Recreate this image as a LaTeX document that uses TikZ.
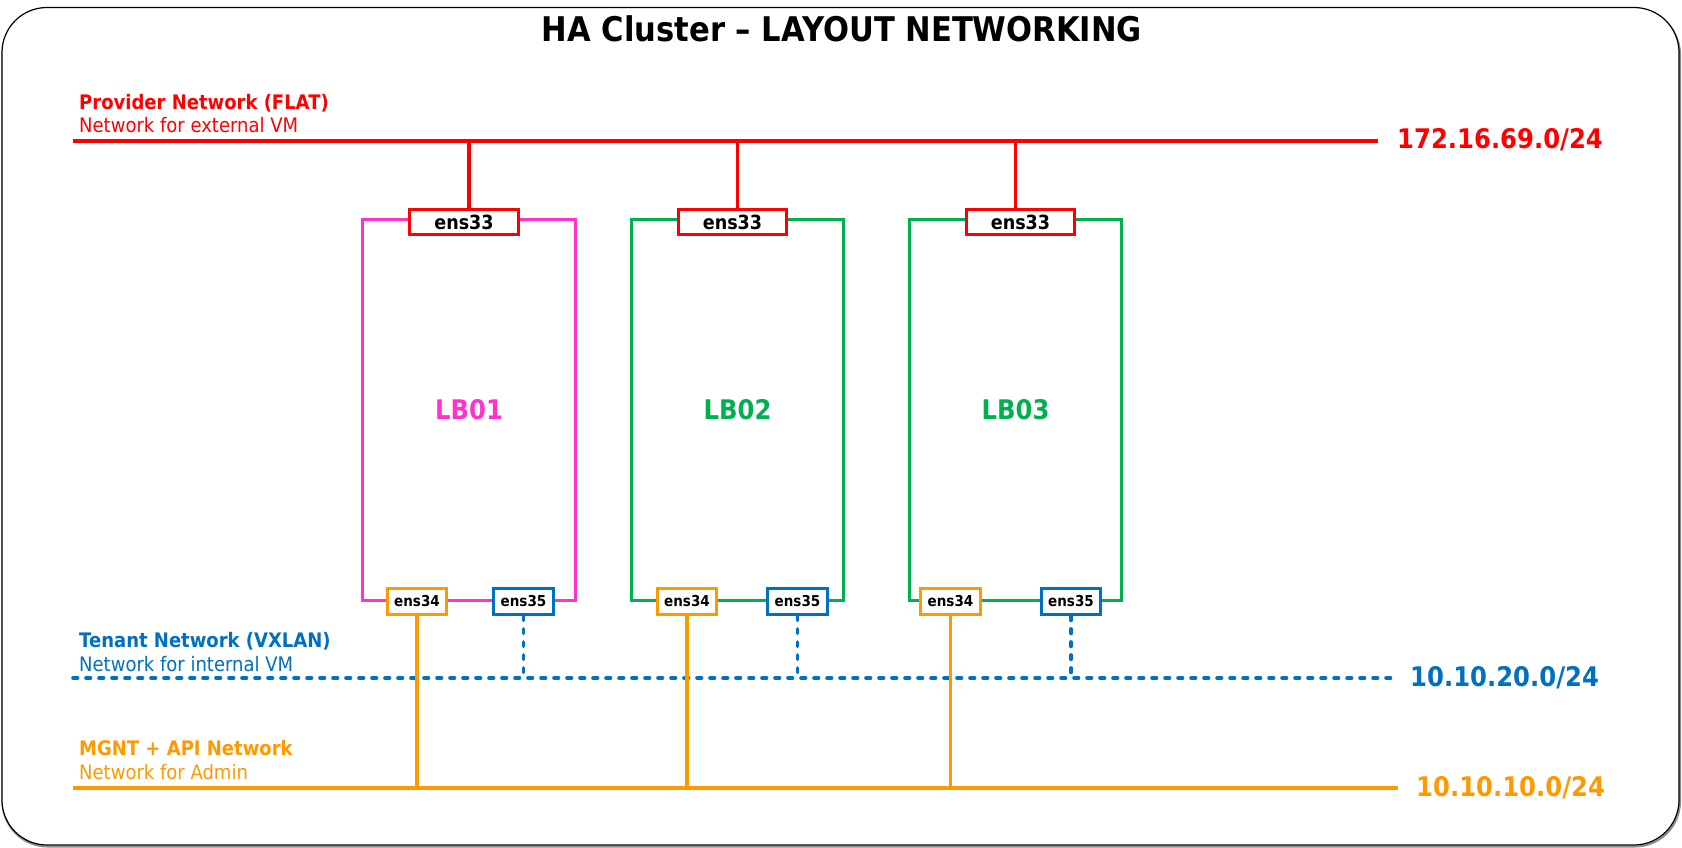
\documentclass[tikz,border=0pt]{standalone}
\usepackage{fontspec}
\setmainfont{DejaVu Sans}[FakeStretch=0.9]
\definecolor{netred}{HTML}{FF0000}
\definecolor{lbpink}{HTML}{FF33CC}
\definecolor{lbgreen}{HTML}{00B050}
\definecolor{netblue}{HTML}{0070C0}
\definecolor{netorange}{HTML}{FF9900}
\begin{document}
\begin{tikzpicture}[x=1pt,y=-1pt,
    lbbox/.style={draw,line width=3.4pt,minimum width=212.5,minimum height=380.5,font=\fontsize{27}{30}\selectfont\bfseries},
    nic/.style={draw,line width=3.4pt,fill=white,inner sep=0pt,text=black},
    nicup/.style={nic,draw=netred,minimum width=108.5,minimum height=24.5,font=\fontsize{19.5}{21}\selectfont\bfseries},
    niclow/.style={nic,minimum width=59.5,minimum height=25.5,font=\fontsize{15}{17}\selectfont\bfseries},
    netname/.style={anchor=base west,inner sep=0pt,font=\fontsize{20}{24}\selectfont\bfseries},
    netnote/.style={anchor=base west,inner sep=0pt,font=\fontsize{20}{24}\selectfont},
    netaddr/.style={anchor=base west,inner sep=0pt,font=\fontsize{27}{30}\selectfont\bfseries},
    bus/.style={line width=3.4pt},
    vx/.style={line width=3.6pt,line cap=round,dash pattern=on 4.5pt off 8.5pt}]
    \useasboundingbox (0,0) rectangle (1682,848);
    \draw[black!45,line width=2pt,rounded corners=45] (2.5,9.5) rectangle (1680,846.5);
    \draw[line width=1.2pt,rounded corners=45,fill=white] (2,7.5) rectangle (1679,845);
    \node[anchor=base,font=\fontsize{34}{40}\selectfont\bfseries] (title) at (842,42) {HA Cluster – LAYOUT NETWORKING};

    \coordinate (provW) at (73,141);
    \coordinate (provE) at (1378,141);
    \coordinate (tenW) at (73,678);
    \coordinate (tenE) at (1397,678);
    \coordinate (mgmtW) at (73,788);
    \coordinate (mgmtE) at (1398,788);
    \draw[bus,netred,line width=4pt] (provW) -- (provE);
    \draw[vx,netblue] (tenW) -- (tenE);
    \draw[bus,netorange] (mgmtW) -- (mgmtE);
    \node[netname,text=netred] (provname) at (79,110) {Provider Network (FLAT)};
    \node[netnote,text=netred] (provnote) at (79,133) {Network for external VM};
    \node[netaddr,text=netred] (provaddr) at (1397,149) {172.16.69.0/24};
    \node[netname,text=netblue] (tenname) at (79,647) {Tenant Network (VXLAN)};
    \node[netnote,text=netblue] (tennote) at (79,671) {Network for internal VM};
    \node[netaddr,text=netblue] (tenaddr) at (1410,686) {10.10.20.0/24};
    \node[netname,text=netorange] (mgmtname) at (79,755) {MGNT + API Network};
    \node[netnote,text=netorange] (mgmtnote) at (79,779) {Network for Admin};
    \node[netaddr,text=netorange] (mgmtaddr) at (1416,796) {10.10.10.0/24};

    \node[lbbox,draw=lbpink,text=lbpink] (lb1) at (469,410) {LB01};
    \node[lbbox,draw=lbgreen,text=lbgreen] (lb2) at (737.5,410) {LB02};
    \node[lbbox,draw=lbgreen,text=lbgreen] (lb3) at (1015.5,410) {LB03};

    \node[nicup] (lb1e33) at (464,222) {ens33};
    \node[nicup] (lb2e33) at (732.5,222) {ens33};
    \node[nicup] (lb3e33) at (1020.5,222) {ens33};
    \node[niclow,draw=netorange] (lb1e34) at (417,601.5) {ens34};
    \node[niclow,draw=netblue] (lb1e35) at (523.5,601.5) {ens35};
    \node[niclow,draw=netorange] (lb2e34) at (687,601.5) {ens34};
    \node[niclow,draw=netblue] (lb2e35) at (797.5,601.5) {ens35};
    \node[niclow,draw=netorange] (lb3e34) at (950.5,601.5) {ens34};
    \node[niclow,draw=netblue] (lb3e35) at (1071,601.5) {ens35};

    \draw[bus,netred] (lb1e33.north -| lb1) -- (lb1 |- provW);
    \draw[bus,netred] (lb2e33.north -| lb2) -- (lb2 |- provW);
    \draw[bus,netred] (lb3e33.north -| lb3) -- (lb3 |- provW);
    \draw[vx,netblue] (lb1e35) -- (lb1e35 |- tenW);
    \draw[vx,netblue] (lb2e35) -- (lb2e35 |- tenW);
    \draw[vx,netblue] (lb3e35) -- (lb3e35 |- tenW);
    \draw[bus,netorange] (lb1e34) -- (lb1e34 |- mgmtW);
    \draw[bus,netorange] (lb2e34) -- (lb2e34 |- mgmtW);
    \draw[bus,netorange] (lb3e34) -- (lb3e34 |- mgmtW);
\end{tikzpicture}
\end{document}
